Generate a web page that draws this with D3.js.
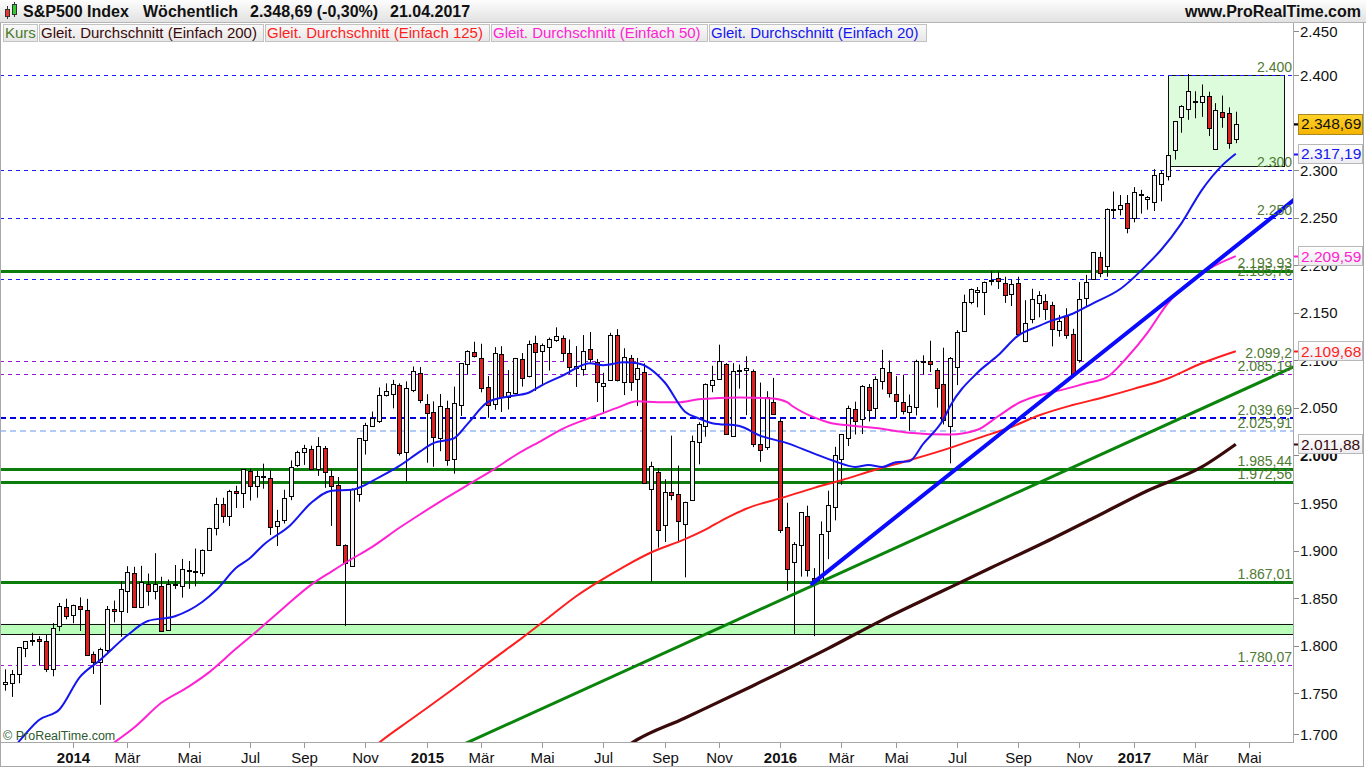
<!DOCTYPE html>
<html><head><meta charset="utf-8">
<script src="https://cdn.jsdelivr.net/npm/d3@7"></script>
<style>
body{margin:0;background:#fff;}
svg{display:block;font-family:Arial,"Liberation Sans",sans-serif;}
</style></head>
<body><svg id="c" width="1366" height="768"></svg>
<script>
// ---------------- DATA ----------------
const firstWeekMonday = "2013-10-28";
const opens = [1759.4,1761.0,1769.9,1797.3,1804.8,1806.6,1805.1,1776.0,1820.4,1841.0,
1832.3,1842.3,1838.0,1790.9,1783.0,1796.0,1839.0,1836.8,1857.7,1876.5,
1841.1,1865.0,1858.0,1863.0,1816.3,1864.5,1863.0,1880.0,1879.0,1876.7,
1900.9,1923.9,1949.0,1936.2,1962.9,1960.8,1984.2,1968.0,1977.3,1976.0,
1926.0,1932.0,1957.0,1990.0,2004.1,2007.2,1986.0,2008.0,1978.0,1968.8,
1905.7,1884.0,1960.0,2016.0,2030.5,2036.0,2063.5,2064.5,2074.0,2003.5,
2069.3,2087.0,2054.0,2045.6,2018.0,2049.8,1996.7,2053.0,2096.5,2108.7,
2103.0,2072.3,2054.0,2107.0,2062.0,2065.5,2101.0,2083.4,2118.0,2109.7,
2114.0,2121.0,2123.4,2107.6,2091.5,2090.8,2111.8,2098.0,2073.0,2079.0,
2126.5,2077.0,2103.0,2080.0,2087.6,1964.6,1983.0,1927.0,1961.4,1959.0,
1928.0,1953.0,2014.0,2031.0,2074.0,2080.0,2096.0,2021.0,2089.4,2090.4,
2089.0,2012.4,2009.0,2056.0,2036.0,1924.6,1888.0,1906.0,1936.0,1871.0,
1867.0,1921.0,1946.0,1996.1,2018.5,2048.6,2037.9,2072.0,2049.8,2078.8,
2087.6,2065.0,2056.0,2045.6,2051.0,2099.1,2099.0,2089.7,2075.0,2031.0,
2093.0,2131.0,2161.0,2172.0,2172.0,2183.7,2186.1,2181.0,2170.2,2181.0,
2120.0,2143.0,2160.0,2162.0,2158.0,2132.0,2146.5,2128.0,2100.0,2165.5,
2185.5,2208.6,2199.0,2258.8,2259.0,2265.0,2250.0,2273.6,2270.0,2266.4,
2285.4,2294.0,2321.0,2356.0,2364.0,2373.0,2372.0,2378.2,2322.5,2361.0,
2360.0,2332.6];
const highs = [1775.2,1774.5,1798.2,1804.8,1813.6,1810.0,1811.5,1823.8,1844.9,1849.4,
1843.2,1850.8,1849.3,1793.9,1798.0,1841.7,1847.5,1867.9,1883.6,1883.0,
1884.0,1875.9,1897.3,1872.5,1869.6,1884.9,1891.3,1889.1,1902.2,1901.3,
1924.0,1955.6,1955.6,1963.9,1968.2,1985.6,1986.0,1983.9,1991.4,1984.9,
1942.9,1964.0,1994.8,2005.0,2011.2,2010.3,2019.3,2010.0,1985.2,1977.4,
1906.6,1965.3,2018.2,2034.3,2046.2,2071.5,2075.8,2079.5,2075.8,2077.9,
2093.6,2093.0,2064.4,2056.9,2064.6,2057.6,2072.4,2097.0,2110.6,2119.6,
2117.5,2083.5,2113.9,2114.9,2089.8,2102.6,2107.7,2120.9,2125.9,2117.7,
2124.0,2134.7,2126.2,2121.9,2115.0,2126.6,2129.9,2101.5,2087.0,2129.0,
2132.8,2112.7,2105.7,2102.5,2096.9,1993.5,1986.7,1975.0,2020.9,1989.4,
1951.4,2020.9,2034.9,2075.8,2094.3,2116.5,2097.0,2097.1,2095.6,2104.3,
2090.4,2076.7,2067.6,2081.6,2038.2,1950.3,1908.9,1940.2,1947.2,1881.6,
1930.7,1962.96,2009.1,2022.4,2052.4,2056.6,2074.0,2075.1,2083.2,2111.1,
2099.9,2083.4,2084.9,2064.2,2100.7,2105.3,2120.6,2091.8,2113.3,2103.5,
2131.7,2169.1,2175.6,2177.1,2182.9,2193.8,2193.4,2187.9,2184.9,2187.9,
2163.3,2175.3,2172.7,2169.6,2161.6,2147.8,2154.8,2133.2,2182.3,2189.9,
2213.4,2214.1,2259.8,2277.5,2273.8,2273.8,2282.1,2279.3,2272.8,2301.0,
2299.4,2319.2,2351.3,2368.3,2401.0,2382.9,2390.0,2382.4,2370.4,2378.4,
2366.0,2361.4];
const lows = [1752.7,1746.2,1760.6,1788.0,1800.0,1779.1,1772.3,1767.9,1815.3,1827.7,
1823.7,1815.5,1790.3,1770.4,1737.9,1791.8,1824.6,1809.4,1834.4,1839.6,
1839.5,1842.1,1848.7,1814.4,1815.8,1859.7,1850.6,1859.8,1862.4,1872.8,
1899.7,1916.0,1929.2,1925.8,1944.7,1944.7,1952.6,1955.6,1965.1,1916.4,
1904.8,1928.5,1953.0,1988.0,1990.1,1984.6,1978.6,1965.99,1926.0,1905.0,
1820.7,1883.5,1951.4,2001.0,2030.2,2034.2,2062.0,2049.6,2000.0,1972.6,
2066.6,2055.0,1992.4,1988.1,2004.5,1989.2,1980.9,2041.6,2085.4,2103.0,
2066.4,2039.7,2048.0,2045.8,2048.4,2064.2,2072.4,2082.1,2067.9,2074.0,
2089.3,2119.5,2099.2,2085.7,2072.1,2083.9,2097.5,2056.3,2044.0,2079.0,
2077.9,2063.5,2067.9,2052.1,1970.9,1867.0,1903.1,1909.0,1953.0,1908.8,
1871.9,1953.0,1990.7,2019.7,2066.5,2080.0,2022.0,2019.4,2070.3,2042.4,
2008.8,1993.3,2005.9,2043.6,1918.5,1857.8,1812.3,1872.7,1872.7,1810.1,
1866.0,1891.0,1931.8,1969.3,2010.0,2022.1,2022.5,2035.7,2039.7,2069.3,
2060.9,2039.5,2043.1,2025.9,2042.1,2085.1,2087.8,2050.4,2032.6,1991.7,
2074.0,2131.0,2159.0,2155.8,2147.6,2178.8,2175.1,2160.4,2157.1,2127.8,
2119.1,2139.0,2145.2,2142.6,2114.7,2124.9,2122.7,2083.8,2097.6,2156.1,
2185.5,2187.4,2187.9,2249.4,2252.4,2233.6,2245.1,2254.3,2258.4,2257.0,
2267.2,2289.1,2311.1,2339.3,2352.9,2354.5,2356.0,2335.8,2322.3,2344.5,
2322.5,2328.3];
const closes = [1761.6,1770.6,1798.2,1804.8,1805.8,1805.1,1775.3,1818.3,1841.4,1831.4,
1842.4,1838.7,1790.3,1782.6,1797.0,1838.6,1836.3,1859.5,1878.0,1841.1,
1866.5,1857.6,1865.1,1815.7,1864.9,1863.4,1881.1,1878.5,1877.9,1900.5,
1923.6,1949.4,1936.2,1962.9,1961.0,1985.4,1967.6,1978.2,1978.3,1925.2,
1931.6,1955.1,1988.4,2003.4,2007.7,1985.5,2010.4,1982.9,1967.9,1906.1,
1886.8,1964.6,2018.1,2031.9,2039.8,2063.5,2067.6,2075.4,2002.3,2070.7,
2088.8,2058.2,2044.8,2019.4,2051.8,1995.0,2055.5,2097.0,2110.3,2104.5,
2071.3,2053.4,2108.1,2061.0,2067.0,2102.1,2081.2,2117.7,2108.3,2116.1,
2122.7,2126.1,2107.4,2092.8,2094.1,2110.0,2101.5,2076.8,2076.6,2126.6,
2079.7,2103.8,2077.6,2091.5,1970.9,1988.9,1921.2,1961.1,1958.0,1931.3,
1951.4,2014.9,2033.1,2075.2,2079.4,2099.2,2023.0,2089.2,2090.1,2091.7,
2012.4,2005.6,2061.0,2043.9,1922.0,1880.3,1906.9,1940.2,1880.1,1864.8,
1917.8,1948.1,2000.0,2022.2,2049.6,2035.9,2072.8,2047.6,2080.7,2091.6,
2065.3,2057.1,2046.6,2052.3,2099.1,2099.1,2096.1,2071.2,2037.4,2103.0,
2129.9,2161.7,2175.0,2173.6,2182.9,2184.1,2183.9,2169.0,2180.0,2127.8,
2139.2,2164.7,2168.3,2153.7,2133.0,2141.2,2126.4,2085.2,2164.5,2181.9,
2213.4,2192.0,2259.5,2258.1,2263.8,2238.8,2277.0,2274.6,2271.3,2294.7,
2297.4,2316.1,2351.2,2367.3,2383.1,2372.6,2378.3,2344.0,2362.7,2355.5,
2329.0,2348.69];

// moving averages: [bar index, value]
const ma20 = [[0,1683],[2,1699],[5,1722],[8,1733],[11,1767],[14,1785],[18,1811],[21,1826],[25,1831],[29,1846],[31,1858],[34,1882],[36,1892],[38,1906],[42,1927],[45,1950],[48,1963],[51,1964],[55,1977],[58,1989],[61,2004],[63,2013],[66,2018],[68,2033],[71,2056],[74,2062],[77,2066],[79,2074],[82,2084],[86,2097],[88,2095],[91,2098],[93,2097],[97,2077],[100,2046],[102,2039],[104,2034],[108,2031],[111,2021],[115,2013],[119,2002],[122,1994],[125,1988],[127,1990],[129,1988],[131,1993],[133,1994],[135,2012],[138,2038],[139,2052],[143,2087],[146,2105],[149,2126],[152,2136],[154,2142],[157,2149],[160,2160],[164,2175],[168,2201],[170,2216],[173,2244],[176,2279],[179,2305],[181,2317.19]];
const ma50 = [[14,1688],[15,1693],[19,1714],[23,1740],[27,1757],[30,1772],[34,1797],[37,1815],[41,1840],[45,1864],[48,1878],[50,1887],[54,1904],[58,1924],[61,1938],[65,1956],[69,1973],[72,1986],[75,2000],[79,2016],[82,2028],[87,2042],[90,2050],[93,2057],[96,2056],[99,2056],[102,2059],[108,2061],[113,2060],[115,2056],[116,2051],[119,2040],[121,2035],[125,2031],[128,2029],[133,2024],[139,2022],[143,2027],[146,2041],[149,2055],[152,2063],[156,2070],[159,2076],[162,2082],[165,2103],[168,2129],[171,2160],[174,2181],[177,2196],[181,2209.59]];
const ma125 = [[54,1692],[55,1698],[60,1724],[66,1755],[72,1787],[76,1808],[80,1830],[84,1852],[87,1866],[91,1883],[95,1898],[100,1912],[103,1922],[106,1934],[109,1944],[115,1957],[119,1966],[123,1974],[128,1985],[133,1995],[139,2008],[143,2018],[148,2030],[152,2042],[157,2053],[162,2062],[166,2070],[171,2081],[176,2097],[181,2109.68]];
const ma200 = [[91,1692],[92,1697],[100,1724],[110,1758],[121,1797],[129,1827],[138,1858],[145,1882],[153,1909],[160,1934],[168,1963],[176,1988],[181,2011.88]];

// drawn trend lines: two anchor points [bar index, price]
const trendBlue = [[119,1867],[181,2220]];
const trendGreen = [[119,1864],[181,2065.5]];

// horizontal levels
const levelValues = [2400,2300,2250,2193.93,2185.76,2099.2,2085.19,2039.69,2025.91,1985.44,1972.56,1867.01,1780.07];
const levelLabels = ["2.400","2.300","2.250","2.193,93","2.185,76","2.099,2","2.085,19","2.039,69","2.025,91","1.985,44","1.972,56","1.867,01","1.780,07"];
const levelKinds = ["blue","blue","blue","green","blue","purple","purple","bluebold","lightblue","green","green","green","purple"];

const bandPrices = [1812,1823];
const boxBars = [171,188.1];
const boxPrices = [2304.5,2400];

const yTicks = [1700,1750,1800,1850,1900,1950,2000,2050,2100,2150,2200,2250,2300,2350,2400,2450];
const monthNames = ["Jan","Feb","Mär","Apr","Mai","Jun","Jul","Aug","Sep","Okt","Nov","Dez"];

const tagValues = [2348.69,2317.19,2209.59,2109.68,2011.88];
const tagLabels = ["2.348,69","2.317,19","2.209,59","2.109,68","2.011,88"];
const tagKinds = ["last","ma20","ma50","ma125","ma200"];

const legendLabels = ["Kurs","Gleit. Durchschnitt (Einfach 200)","Gleit. Durchschnitt (Einfach 125)","Gleit. Durchschnitt (Einfach 50)","Gleit. Durchschnitt (Einfach 20)"];
const legendKinds = ["kurs","ma200","ma125","ma50","ma20"];

const titleParts = ["S&P500 Index","Wöchentlich","2.348,69 (-0,30%)","21.04.2017"];

// ---------------- STYLE ----------------
const C = {
  kurs:"#4a7a2a", ma200:"#3a0a0a", ma125:"#ff1e1e", ma50:"#ff22d2", ma20:"#1515f0",
  levelText:"#4f7a33", up:"#f3f3f3", down:"#e0201e"
};
const levelStyle = {
  blue:{stroke:"#1a1aff",w:1,dash:"4,4"},
  bluebold:{stroke:"#0000dd",w:2,dash:"6,4"},
  lightblue:{stroke:"#b3cbf7",w:2,dash:"6,4"},
  purple:{stroke:"#9a18d6",w:1,dash:"4,4"},
  green:{stroke:"#0a7d0a",w:3,dash:null}
};

const svg = d3.select("#c");
const P = {l:0, r:1293, t:43, b:742};
const x = d3.scaleLinear().domain([0,181]).range([5,1235.8]);
const y = d3.scaleLinear().domain([1750,2400]).range([693.3,75]);
const de = d3.formatLocale({decimal:",",thousands:".",grouping:[3],currency:["","€"]});
const fmt = de.format(",.0f");

const defs = svg.append("defs");
defs.append("clipPath").attr("id","clip").append("rect")
  .attr("x",P.l).attr("y",P.t).attr("width",P.r-P.l).attr("height",P.b-P.t);
function grad(id, c1, c2){
  const g = defs.append("linearGradient").attr("id",id).attr("x1",0).attr("y1",0).attr("x2",0).attr("y2",1);
  g.append("stop").attr("offset","0%").attr("stop-color",c1);
  g.append("stop").attr("offset","100%").attr("stop-color",c2);
}
grad("gTitle","#fdfdfd","#e2e2e2");
grad("gLeg","#fafafa","#e6e6e6");
grad("gTag","#ffffff","#ececf2");
grad("gLast","#ffd22a","#f5b400");

svg.append("rect").attr("width",1366).attr("height",768).attr("fill","#fff");

// ---------- title bar ----------
svg.append("rect").attr("x",0).attr("y",0).attr("width",1366).attr("height",22).attr("fill","url(#gTitle)");
svg.append("line").attr("x1",0).attr("x2",1366).attr("y1",22.5).attr("y2",22.5).attr("stroke","#b4b4b4");
const ic = svg.append("g");
ic.append("line").attr("x1",7.5).attr("x2",7.5).attr("y1",6).attr("y2",19).attr("stroke","#333");
ic.append("rect").attr("x",5.5).attr("y",9.5).attr("width",4).attr("height",7).attr("fill","#e33").attr("stroke","#333");
ic.append("line").attr("x1",14.5).attr("x2",14.5).attr("y1",2).attr("y2",17).attr("stroke","#333");
ic.append("rect").attr("x",12.5).attr("y",4.5).attr("width",4).attr("height",10).attr("fill","#3c3").attr("stroke","#333");
const titleX = [23,143,250,390];
titleParts.forEach((t,i)=>{
  svg.append("text").attr("x",titleX[i]).attr("y",17).attr("font-size",16).attr("font-weight","bold")
    .attr("fill","#111").text(t);
});
svg.append("text").attr("x",1361).attr("y",17).attr("text-anchor","end").attr("font-size",16)
  .attr("font-weight","bold").attr("fill","#111").text("www.ProRealTime.com");

// ---------- legend ----------
const legX = [3,39,265,491,709];
const legW = [34,224,224,216,217];
legendLabels.forEach((t,i)=>{
  svg.append("rect").attr("x",legX[i]+0.5).attr("y",24.5).attr("width",legW[i]).attr("height",17)
    .attr("fill","url(#gLeg)").attr("stroke","#c2c2c2");
  svg.append("text").attr("x",legX[i]+2).attr("y",38).attr("font-size",15)
    .attr("fill",C[legendKinds[i]]).text(t);
});

// ---------- plot ----------
const g = svg.append("g").attr("clip-path","url(#clip)");

g.append("rect").attr("x",P.l).attr("width",P.r-P.l)
  .attr("y",y(bandPrices[1])).attr("height",y(bandPrices[0])-y(bandPrices[1]))
  .attr("fill","#b9ffb9");
bandPrices.forEach(v=>{
  g.append("line").attr("x1",P.l).attr("x2",P.r).attr("y1",Math.round(y(v))+0.5).attr("y2",Math.round(y(v))+0.5)
    .attr("stroke","#111").attr("stroke-width",1);
});

g.append("rect").attr("x",Math.round(x(boxBars[0]))+0.5).attr("y",Math.round(y(boxPrices[1]))+0.5)
  .attr("width",Math.round(x(boxBars[1])-x(boxBars[0])))
  .attr("height",Math.round(y(boxPrices[0])-y(boxPrices[1])))
  .attr("fill","#dcfcdc").attr("stroke","#111");

levelValues.forEach((v,i)=>{
  const s = levelStyle[levelKinds[i]];
  const yy = s.w%2===1 ? Math.round(y(v))+0.5 : Math.round(y(v));
  const l = g.append("line").attr("x1",P.l).attr("x2",P.r).attr("y1",yy).attr("y2",yy)
    .attr("stroke",s.stroke).attr("stroke-width",s.w);
  if(s.dash) l.attr("stroke-dasharray",s.dash);
});

// candles
const idx = d3.range(closes.length);
const cg = g.append("g");
idx.forEach(i=>{
  const cx = Math.round(x(i))+0.5;
  const o=opens[i], c=closes[i], hi=highs[i], lo=lows[i];
  cg.append("line").attr("x1",cx).attr("x2",cx).attr("y1",y(hi)).attr("y2",y(lo)).attr("stroke","#000").attr("stroke-width",1);
  const top = Math.round(y(Math.max(o,c))), bot = Math.round(y(Math.min(o,c)));
  const h = Math.max(1, bot-top);
  cg.append("rect").attr("x",cx-2).attr("y",top+0.5).attr("width",4).attr("height",h)
    .attr("fill", c>=o ? C.up : C.down).attr("stroke","#000").attr("stroke-width",1);
});

// moving averages
const lineGen = d3.line().x(d=>x(d[0])).y(d=>y(d[1])).curve(d3.curveMonotoneX);
[[ma200,C.ma200,3.2],[ma125,C.ma125,2],[ma50,C.ma50,2],[ma20,C.ma20,2]].forEach(([d,col,w])=>{
  g.append("path").attr("d",lineGen(d)).attr("fill","none").attr("stroke",col).attr("stroke-width",w)
    .attr("stroke-linejoin","round");
});

// trend lines
function extend(pts, i0, i1){
  const [a,b] = pts;
  const m = (b[1]-a[1])/(b[0]-a[0]);
  return [[i0, a[1]+m*(i0-a[0])],[i1, a[1]+m*(i1-a[0])]];
}
const iRight = x.invert(P.r+5), iLeft = x.invert(P.l-5);
const straight = d3.line().x(d=>x(d[0])).y(d=>y(d[1]));
g.append("path").attr("d",straight(extend(trendGreen,iLeft,iRight))).attr("stroke","#0a840a").attr("stroke-width",3).attr("fill","none");
g.append("path").attr("d",straight(extend(trendBlue,trendBlue[0][0]-0.3,iRight))).attr("stroke","#0a0aff").attr("stroke-width",4).attr("fill","none").attr("stroke-linecap","round");

// level labels
levelValues.forEach((v,i)=>{
  svg.append("text").attr("x",P.r-1).attr("y",y(v)-3).attr("text-anchor","end")
    .attr("font-size",14).attr("fill",C.levelText).text(levelLabels[i]);
});

svg.append("text").attr("x",3).attr("y",740).attr("font-size",12.5).attr("fill","#2e5a2e").text("© ProRealTime.com");

// ---------- axes ----------
svg.append("line").attr("x1",P.r+0.5).attr("x2",P.r+0.5).attr("y1",23).attr("y2",P.b+1).attr("stroke","#a8a8a8");
svg.append("line").attr("x1",0).attr("x2",P.r+1).attr("y1",P.b+0.5).attr("y2",P.b+0.5).attr("stroke","#a8a8a8");
svg.append("line").attr("x1",0.5).attr("x2",0.5).attr("y1",23).attr("y2",767).attr("stroke","#a8a8a8");
svg.append("line").attr("x1",1363.5).attr("x2",1363.5).attr("y1",23).attr("y2",767).attr("stroke","#a8a8a8");
svg.append("line").attr("x1",0).attr("x2",1364).attr("y1",766.5).attr("y2",766.5).attr("stroke","#a8a8a8");

// right axis (a label fully hidden behind a price tag is not drawn; partly hidden ones are, as in the original)
yTicks.forEach(v=>{
  const yy = Math.min(734, Math.max(31, y(v)));
  svg.append("line").attr("x1",P.r+1).attr("x2",P.r+6).attr("y1",Math.round(yy)+0.5).attr("y2",Math.round(yy)+0.5).attr("stroke","#888");
  const hidden = tagValues.some(t=>Math.abs(y(t)-yy)<4);
  if(hidden) return;
  svg.append("text").attr("x",1300).attr("y",yy+5.5).attr("font-size",15)
    .attr("font-weight", v===2000 ? "bold" : "normal").attr("fill","#111").text(fmt(v));
});

// bottom axis
const start = d3.timeParse("%Y-%m-%d")(firstWeekMonday);
for(let i=1;i<=189;i++){
  const d = d3.timeMonday.offset(start,i), dp = d3.timeMonday.offset(start,i-1);
  if(d.getMonth()!==dp.getMonth() && d.getMonth()%2===0){
    const xx = Math.round(x(i))+0.5;
    if(xx<30 || xx>P.r) continue;
    svg.append("line").attr("x1",xx).attr("x2",xx).attr("y1",P.b+1).attr("y2",P.b+6).attr("stroke","#999");
    const isYear = d.getMonth()===0;
    svg.append("text").attr("x",xx).attr("y",763).attr("text-anchor","middle").attr("font-size",15)
      .attr("font-weight",isYear?"bold":"normal").attr("fill","#111")
      .text(isYear ? d.getFullYear() : monthNames[d.getMonth()]);
  }
}

// price tags (drawn over the axis labels)
const tagColor = {last:"#111",ma20:C.ma20,ma50:C.ma50,ma125:C.ma125,ma200:C.ma200};
tagValues.forEach((v,i)=>{
  const yy = y(v), k = tagKinds[i];
  svg.append("line").attr("x1",P.r+1).attr("x2",P.r+6).attr("y1",Math.round(yy)+0.5).attr("y2",Math.round(yy)+0.5)
    .attr("stroke",k==="last"?"#000":tagColor[k]).attr("stroke-width",2);
  svg.append("rect").attr("x",1298.5).attr("y",Math.round(yy-10)+0.5).attr("width",64).attr("height",k==="last"?20:19)
    .attr("fill",k==="last"?"url(#gLast)":"url(#gTag)").attr("stroke",k==="last"?"#a88a20":"#b8b8b8");
  svg.append("text").attr("x",1301).attr("y",yy+5.5).attr("font-size",15.5).attr("fill",tagColor[k]).text(tagLabels[i]);
});
</script></body></html>
